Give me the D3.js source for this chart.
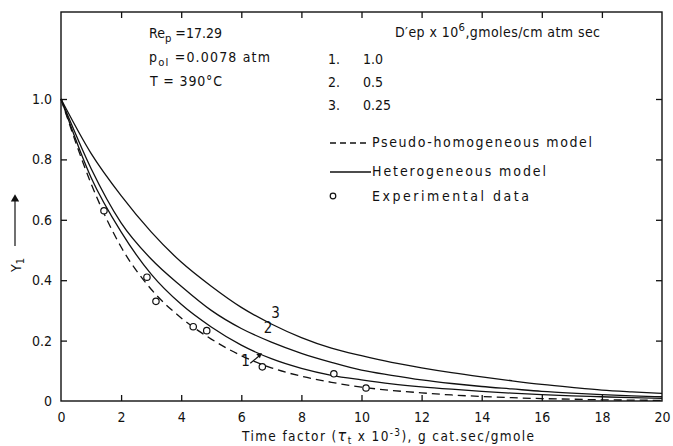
<!DOCTYPE html>
<html>
<head>
<meta charset="utf-8">
<script src="https://cdnjs.cloudflare.com/ajax/libs/d3/7.8.5/d3.min.js"></script>
<style>
  html, body { margin: 0; padding: 0; background: #fff; }
  svg { display: block; }
  text { font-family: "DejaVu Sans Condensed", "DejaVu Sans", sans-serif; fill: #111; }
</style>
</head>
<body>
<svg id="chart" width="673" height="446"></svg>
<script>
// ---- data ----
const xTicks = [0, 2, 4, 6, 8, 10, 12, 14, 16, 18, 20];
const yTicks = [0, 0.2, 0.4, 0.6, 0.8, 1.0];
const yTickLabels = ["0", "0.2", "0.4", "0.6", "0.8", "1.0"];
const tau = [0, 1, 2, 3, 4, 5, 6, 7, 8, 9, 10, 11, 12, 13, 14, 15, 16, 17, 18, 19, 20];
const pseudoHomogeneous = [1.0, 0.72, 0.51, 0.37, 0.275, 0.205, 0.15, 0.11, 0.082, 0.062, 0.046, 0.035, 0.027, 0.02, 0.015, 0.011, 0.008, 0.006, 0.004, 0.003, 0.002];
const hetero1 = [1.0, 0.74, 0.56, 0.42, 0.32, 0.245, 0.185, 0.14, 0.108, 0.085, 0.07, 0.057, 0.047, 0.039, 0.032, 0.026, 0.021, 0.017, 0.014, 0.011, 0.009];
const hetero2 = [1.0, 0.77, 0.59, 0.47, 0.38, 0.30, 0.24, 0.195, 0.158, 0.128, 0.102, 0.085, 0.07, 0.058, 0.048, 0.04, 0.032, 0.026, 0.021, 0.017, 0.014];
const hetero3 = [1.0, 0.82, 0.68, 0.56, 0.46, 0.38, 0.31, 0.255, 0.21, 0.175, 0.15, 0.128, 0.11, 0.094, 0.08, 0.067, 0.055, 0.045, 0.036, 0.03, 0.025];
const expX = [1.43, 2.86, 3.16, 4.4, 4.85, 6.7, 9.08, 10.15];
const expY = [0.63, 0.41, 0.33, 0.246, 0.233, 0.113, 0.09, 0.043];
const curveLabels = ["1", "2", "3"];
const depValues = ["1.0", "0.5", "0.25"];

(function () {
// ---- layout ----
const svg = d3.select("#chart");
const mLeft = 61, mRight = 662, mTop = 12, mBottom = 401;
const x = d3.scaleLinear().domain([0, 20]).range([mLeft, mRight]);
const y = d3.scaleLinear().domain([0, 1.0]).range([mBottom, 99]);

const ink = "#111";

// frame
svg.append("rect").attr("x", mLeft).attr("y", mTop).attr("width", mRight - mLeft).attr("height", mBottom - mTop)
  .attr("fill", "none").attr("stroke", ink).attr("stroke-width", 1.4);

// bottom axis (ticks inward)
const xAxis = d3.axisBottom(x).tickValues(xTicks).tickSize(-6).tickPadding(11).tickFormat(d3.format("d"));
const gx = svg.append("g").attr("transform", `translate(0,${mBottom})`).call(xAxis);
gx.select(".domain").remove();
gx.selectAll(".tick line").attr("stroke", ink).attr("stroke-width", 1.3)
  .filter(d => d === 0 || d === 20).remove();
gx.selectAll(".tick text").attr("font-size", 14).attr("fill", ink)
  .style("font-family", '"DejaVu Sans Condensed", sans-serif');

// top axis ticks (inward)
const xTop = d3.axisTop(x).tickValues(xTicks.filter(d => d > 0 && d < 20)).tickSize(-6).tickFormat("");
const gxt = svg.append("g").attr("transform", `translate(0,${mTop})`).call(xTop);
gxt.select(".domain").remove();
gxt.selectAll(".tick line").attr("stroke", ink).attr("stroke-width", 1.3);

// left axis
const yAxis = d3.axisLeft(y).tickValues(yTicks).tickSize(-6).tickPadding(9)
  .tickFormat((d, i) => yTickLabels[i]);
const gy = svg.append("g").attr("transform", `translate(${mLeft},0)`).call(yAxis);
gy.select(".domain").remove();
gy.selectAll(".tick line").attr("stroke", ink).attr("stroke-width", 1.3).filter(d => d === 0).remove();
gy.selectAll(".tick text").attr("font-size", 14).attr("fill", ink)
  .style("font-family", '"DejaVu Sans Condensed", sans-serif');

// right axis ticks
const yRight = d3.axisRight(y).tickValues(yTicks.filter(d => d > 0)).tickSize(-6).tickFormat("");
const gyr = svg.append("g").attr("transform", `translate(${mRight},0)`).call(yRight);
gyr.select(".domain").remove();
gyr.selectAll(".tick line").attr("stroke", ink).attr("stroke-width", 1.3);

// curves
const line = d3.line().x((d, i) => x(tau[i])).y(d => y(d)).curve(d3.curveMonotoneX);
const plot = svg.append("g");
[hetero1, hetero2, hetero3].forEach(s => {
  plot.append("path").attr("d", line(s)).attr("fill", "none").attr("stroke", ink).attr("stroke-width", 1.3);
});
plot.append("path").attr("d", line(pseudoHomogeneous)).attr("fill", "none").attr("stroke", ink)
  .attr("stroke-width", 1.3).attr("stroke-dasharray", "8,5");

// experimental points
plot.selectAll("circle.exp").data(expX).join("circle").attr("class", "exp")
  .attr("cx", d => x(d)).attr("cy", (d, i) => y(expY[i])).attr("r", 3.2)
  .attr("fill", "#fff").attr("stroke", ink).attr("stroke-width", 1.2);

// curve labels
const labPos = [[6.0, 0.115], [6.75, 0.225], [7.0, 0.275]];
curveLabels.forEach((t, i) => {
  svg.append("text").attr("x", x(labPos[i][0])).attr("y", y(labPos[i][1])).attr("font-size", 15).text(t);
});
// arrow from label 1 to curve 1
svg.append("line").attr("x1", x(6.3)).attr("y1", y(0.125)).attr("x2", x(6.6)).attr("y2", y(0.15))
  .attr("stroke", ink).attr("stroke-width", 1.2);
svg.append("path").attr("d", d3.symbol(d3.symbolTriangle, 14)())
  .attr("transform", `translate(${x(6.6)},${y(0.152)}) rotate(50)`).attr("fill", ink);

// parameter text
const fs = 14;
function addText(xp, yp, parts, tl) {
  const t = svg.append("text").attr("x", xp).attr("y", yp).attr("font-size", fs);
  parts.forEach(p => {
    const ts = t.append("tspan").text(p.t);
    if (p.sub) ts.attr("font-size", fs * 0.8).attr("dy", 4);
    if (p.sup) ts.attr("font-size", fs * 0.8).attr("dy", -6);
    if (p.back) ts.attr("dy", p.back);
  });
  if (tl) t.attr("textLength", tl).attr("lengthAdjust", "spacing");
  return t;
}
addText(149, 38, [{t: "Re"}, {t: "p", sub: true}, {t: " =17.29", back: -4}], 73);
addText(149, 62, [{t: "p"}, {t: "ol", sub: true}, {t: "  =0.0078 atm", back: -4}], 121);
addText(150, 86, [{t: "T = 390°C"}], 72);
addText(395, 37, [{t: "D′ep x 10"}, {t: "6", sup: true}, {t: ",gmoles/cm atm sec", back: 6}], 205);
depValues.forEach((v, i) => {
  svg.append("text").attr("x", 328).attr("y", 64 + i * 23).attr("font-size", fs).text((i + 1) + ".");
  svg.append("text").attr("x", 363).attr("y", 64 + i * 23).attr("font-size", fs).text(v);
});

// legend
svg.append("line").attr("x1", 330).attr("x2", 370).attr("y1", 143).attr("y2", 143)
  .attr("stroke", ink).attr("stroke-width", 1.3).attr("stroke-dasharray", "6,4");
svg.append("line").attr("x1", 330).attr("x2", 371).attr("y1", 172).attr("y2", 172)
  .attr("stroke", ink).attr("stroke-width", 1.3);
svg.append("circle").attr("cx", 333).attr("cy", 196).attr("r", 2.8).attr("fill", "#fff")
  .attr("stroke", ink).attr("stroke-width", 1.2);
addText(372, 147, [{t: "Pseudo-homogeneous model"}], 220);
addText(372, 176, [{t: "Heterogeneous model"}], 174);
addText(372, 201, [{t: "Experimental data"}], 157);

// x title
const xt = svg.append("text").attr("x", 242).attr("y", 441).attr("font-size", 13.5)
  .attr("textLength", 292).attr("lengthAdjust", "spacing");
xt.append("tspan").text("Time factor (");
xt.append("tspan").text("τ").attr("font-size", 16).attr("font-style", "italic");
xt.append("tspan").text("t").attr("font-size", 10).attr("dy", 3);
xt.append("tspan").text(" x 10").attr("dy", -3);
xt.append("tspan").text("-3").attr("font-size", 10).attr("dy", -5);
xt.append("tspan").text("), g cat.sec/gmole").attr("dy", 5);

// y title with arrow
const yl = svg.append("text").attr("transform", "translate(21,272) rotate(-90)").attr("font-size", fs);
yl.append("tspan").text("Y");
yl.append("tspan").text("1").attr("font-size", 11).attr("dy", 3);
svg.append("line").attr("x1", 15).attr("x2", 15).attr("y1", 246).attr("y2", 200)
  .attr("stroke", ink).attr("stroke-width", 1.2);
svg.append("path").attr("d", d3.symbol(d3.symbolTriangle, 30)())
  .attr("transform", "translate(15,199)").attr("fill", ink);
})();
</script>
</body>
</html>
